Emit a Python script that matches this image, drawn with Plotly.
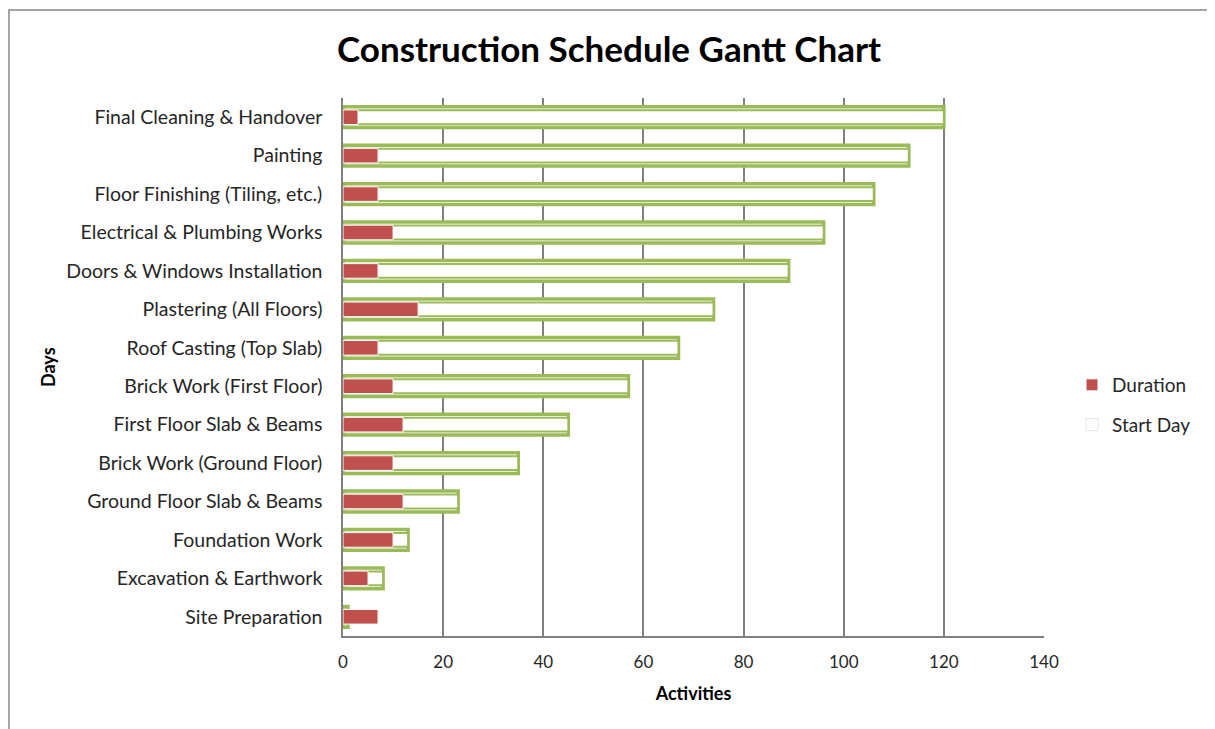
import plotly.graph_objects as go

activities = [
    "Site Preparation", "Excavation & Earthwork", "Foundation Work",
    "Ground Floor Slab & Beams", "Brick Work (Ground Floor)",
    "First Floor Slab & Beams", "Brick Work (First Floor)",
    "Roof Casting (Top Slab)", "Plastering (All Floors)",
    "Doors & Windows Installation", "Electrical & Plumbing Works",
    "Floor Finishing (Tiling, etc.)", "Painting", "Final Cleaning & Handover",
]
start_day = [1, 8, 13, 23, 35, 45, 57, 67, 74, 89, 96, 106, 113, 120]
duration = [7, 5, 10, 12, 10, 12, 10, 7, 15, 7, 10, 7, 7, 3]
x_ticks = [0, 20, 40, 60, 80, 100, 120, 140]

GREEN = "#9BBB59"
RED = "#C0504D"
FONT = "Lato"
TXT = "#262626"

fig = go.Figure()
# Start Day: outer glow
fig.add_trace(go.Bar(
    y=activities, x=start_day, orientation="h", width=0.54,
    marker=dict(color="white", line=dict(color=GREEN, width=3.5)),
    showlegend=False, hoverinfo="skip",
))
# Start Day: inner outline
fig.add_trace(go.Bar(
    y=activities, x=start_day, orientation="h", width=0.36,
    marker=dict(color="white", line=dict(color=GREEN, width=2)),
    name="Start Day", showlegend=False,
))
# Duration
fig.add_trace(go.Bar(
    y=activities, x=duration, orientation="h", width=0.38,
    marker=dict(color=RED, line=dict(color="white", width=1)),
    name="Duration", legendrank=1, legendgroup="d",
))
# legend entry for Start Day
fig.add_trace(go.Bar(
    y=[None], x=[None], orientation="h", name="Start Day",
    marker=dict(color="white", line=dict(color="#E6E6E6", width=1)),
    legendrank=2, legendgroup="s",
))

OFF = 8  # page offset of the figure
W, H = 1215 - OFF, 729 - OFF
L, R, T, B = 343 - OFF, W - (1044 - OFF), 98 - OFF, H - (636 - OFF)
PW, PH = W - L - R, H - T - B


def px(x):
    return (x - OFF - L) / PW


def py(y):
    return (H - B - (y - OFF)) / PH


fig.update_layout(
    width=W, height=H,
    margin=dict(l=L, r=R, t=T, b=B, autoexpand=False),
    barmode="overlay",
    paper_bgcolor="white", plot_bgcolor="white",
    font=dict(family=FONT, size=18, color=TXT),
    title=dict(text="<b>Construction Schedule Gantt Chart</b>",
               x=(609 - OFF) / W, xref="container", xanchor="center",
               y=1 - (50 - OFF) / H, yref="container", yanchor="middle",
               font=dict(family=FONT, size=35, color="black")),
    xaxis=dict(range=[0, 140], tickvals=x_ticks, showgrid=True,
               gridcolor="#808080", gridwidth=1.5, zeroline=False,
               showline=True, linecolor="#808080", linewidth=1.5,
               tickfont=dict(size=17, color=TXT),
               ticks="", ticklabelstandoff=10,
               title=dict(text="<b>Activities</b>", font=dict(size=18, color="black"),
                          standoff=16)),
    yaxis=dict(categoryorder="array", categoryarray=activities,
               showline=True, linecolor="#808080", linewidth=1.5,
               showgrid=False, ticks="", ticklabelstandoff=15,
               tickfont=dict(size=19.5, color=TXT),
               range=[-0.5, len(activities) - 0.5]),
    legend=dict(x=px(1072), xanchor="left", y=py(405), yanchor="middle",
                font=dict(size=19, color=TXT), bgcolor="rgba(0,0,0,0)",
                itemwidth=30, tracegroupgap=12),
    annotations=[dict(text="<b>Days</b>", xref="paper", yref="paper",
                      x=px(48), y=py(367), xanchor="center", yanchor="middle",
                      textangle=-90, showarrow=False,
                      font=dict(size=18, color="black"))],
    shapes=[dict(type="rect", xref="paper", yref="paper",
                 x0=px(9), x1=px(1208), y0=py(770), y1=py(10),
                 line=dict(color="#868686", width=1.5), fillcolor="rgba(0,0,0,0)",
                 layer="below")],
)

fig.write_html("out.html")
